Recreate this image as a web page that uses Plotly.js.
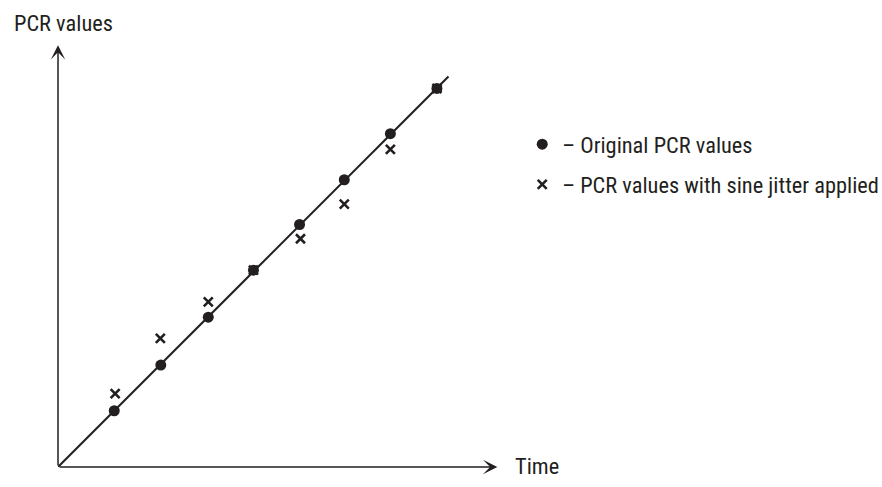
<!DOCTYPE html>
<html>
<head>
<meta charset="utf-8">
<script src="https://cdn.plot.ly/plotly-3.0.1.min.js"></script>
<style>
  html, body { margin: 0; padding: 0; background: #fff; }
  #chart { width: 882px; height: 487px; }
</style>
</head>
<body>
<div id="chart"></div>
<script>
// ---- data ----
const lineTime = [0, 8.47];
const linePCR = [0, 8.47];

const originalTime = [1.22, 2.23, 3.26, 4.24, 5.24, 6.21, 7.21, 8.22];
const originalPCR  = [1.22, 2.21, 3.25, 4.27, 5.26, 6.23, 7.23, 8.21];

const jitterTime = [1.24, 2.22, 3.26, 4.24, 5.26, 6.21, 7.21, 8.22];
const jitterPCR  = [1.59, 2.79, 3.58, 4.27, 4.95, 5.70, 6.89, 8.21];

const seriesNames = ['– Original PCR values', '– PCR values with sine jitter applied'];
const xAxisLabel = 'Time';
const yAxisLabel = 'PCR values';
const xArrowEnd = 9.53;
const yArrowEnd = 9.15;

const ink = '#231f20';
const fontFamily = '"Liberation Sans Narrow", "Arial Narrow", "Roboto Condensed", "Liberation Sans", sans-serif';
const fontSize = 22.4;

const traces = [
  {
    x: lineTime, y: linePCR, type: 'scatter', mode: 'lines',
    line: { color: ink, width: 2 }, showlegend: false, hoverinfo: 'skip'
  },
  {
    x: jitterTime, y: jitterPCR, type: 'scatter', mode: 'markers',
    name: seriesNames[1], legendrank: 2, legendgroup: 'jitter',
    marker: { symbol: 'x-thin', size: 9, color: ink, line: { color: ink, width: 2.6 } }
  },
  {
    x: originalTime, y: originalPCR, type: 'scatter', mode: 'markers',
    name: seriesNames[0], legendrank: 1, legendgroup: 'original',
    marker: { symbol: 'circle', size: 11, color: ink }
  }
];

const hiddenAxis = {
  showline: false, showgrid: false, zeroline: false, showticklabels: false,
  ticks: '', fixedrange: true
};

const layout = {
  width: 882, height: 487,
  margin: { l: 58, r: 363, t: 29, b: 20, pad: 0, autoexpand: false },
  paper_bgcolor: '#ffffff', plot_bgcolor: '#ffffff',
  font: { family: fontFamily, size: fontSize, color: ink },
  xaxis: Object.assign({ range: [0, 10] }, hiddenAxis),
  yaxis: Object.assign({ range: [0, 9.5] }, hiddenAxis),
  showlegend: true,
  legend: {
    x: 1.007, xanchor: 'left', y: 0.785, yanchor: 'top',
    bgcolor: 'rgba(0,0,0,0)', borderwidth: 0,
    font: { family: fontFamily, size: fontSize, color: ink },
    tracegroupgap: 8, itemclick: false, itemdoubleclick: false
  },
  annotations: [
    { // x axis with arrow
      x: xArrowEnd, y: 0, ax: 0, ay: 0, xref: 'x', yref: 'y', axref: 'x', ayref: 'y',
      text: '', showarrow: true, arrowhead: 3, arrowsize: 1.6, arrowwidth: 1.5, arrowcolor: ink
    },
    { // y axis with arrow
      x: 0, y: yArrowEnd, ax: 0, ay: 0, xref: 'x', yref: 'y', axref: 'x', ayref: 'y',
      text: '', showarrow: true, arrowhead: 3, arrowsize: 1.6, arrowwidth: 1.5, arrowcolor: ink
    },
    {
      x: -0.1, y: 1.0137, xref: 'paper', yref: 'paper', xanchor: 'left', yanchor: 'middle',
      text: yAxisLabel, showarrow: false, font: { family: fontFamily, size: fontSize, color: ink }
    },
    {
      x: 9.87, y: 0.03, xref: 'x', yref: 'y', xanchor: 'left', yanchor: 'middle',
      text: xAxisLabel, showarrow: false, font: { family: fontFamily, size: fontSize, color: ink }
    }
  ],
  hovermode: false
};

Plotly.newPlot('chart', traces, layout, { displayModeBar: false, staticPlot: true });
</script>
</body>
</html>
